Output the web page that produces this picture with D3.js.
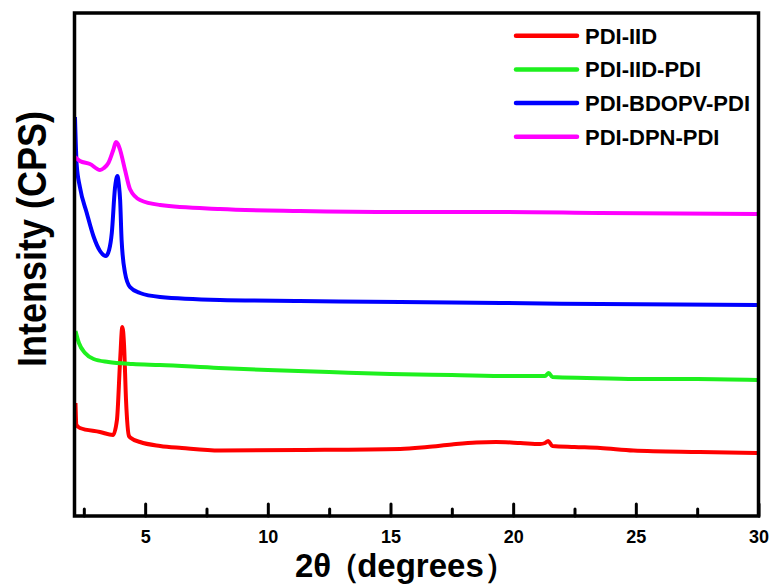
<!DOCTYPE html>
<html>
<meta charset="utf-8">

<!-- Load d3.js -->
<script src="https://d3js.org/d3.v7.js"></script>

<style>
    body { margin: 0; background: #fff; }
    text { font-family: "Liberation Sans", Arial, sans-serif; font-weight: bold; }
</style>

<body>
    <div id="my_xrd"></div>
    <script>

        // series names and colors
        var seriesNames = ["PDI-IID", "PDI-IID-PDI", "PDI-BDOPV-PDI", "PDI-DPN-PDI"];
        var seriesColors = ["#ff0000", "#1ef01e", "#0000ff", "#ff00ff"];

        // 2theta values and intensities (arbitrary counts)
        var iidX = [2.16, 2.2, 2.34, 3.16, 3.69, 3.85, 3.98, 4.07, 4.14, 4.22, 4.34, 4.42, 4.79, 5.61, 6.5, 8.05, 11.3, 15.4, 16.5, 17.5, 18.5, 19.3, 20.3, 21.1, 21.3, 21.43, 21.6, 22.5, 23.55, 24.9, 27.6, 29.95];
        var iidY = [1130, 910, 880, 840, 810, 960, 1560, 1890, 1710, 1160, 800, 780, 740, 700, 680, 655, 660, 670, 690, 715, 735, 740, 730, 720, 730, 750, 700, 690, 680, 655, 640, 630];

        var iidPdiX = [2.16, 2.3, 2.55, 2.9, 3.5, 4.5, 5.6, 8, 10, 12.5, 15, 17.5, 20, 21.3, 21.45, 21.6, 23, 25, 27.5, 29.95];
        var iidPdiY = [1850, 1730, 1630, 1570, 1540, 1520, 1510, 1480, 1460, 1440, 1420, 1410, 1400, 1400, 1430, 1390, 1380, 1370, 1370, 1360];

        var bdopvX = [2.14, 2.21, 2.34, 2.62, 2.89, 3.16, 3.4, 3.53, 3.64, 3.77, 3.87, 3.93, 3.98, 4.04, 4.18, 4.38, 4.79, 5.61, 8.05, 11.3, 15.4, 19.5, 23.55, 29.95];
        var bdopvY = [3990, 3510, 3290, 3030, 2800, 2650, 2600, 2660, 2830, 3280, 3400, 3310, 3160, 2760, 2430, 2290, 2230, 2190, 2160, 2150, 2140, 2130, 2120, 2110];

        var dpnX = [2.14, 2.34, 2.75, 3.16, 3.32, 3.5, 3.7, 3.81, 3.89, 3.98, 4.18, 4.38, 4.79, 5.61, 8.05, 11.3, 15.4, 19.5, 23.55, 29.95];
        var dpnY = [3590, 3550, 3520, 3460, 3480, 3530, 3660, 3740, 3720, 3660, 3460, 3270, 3160, 3110, 3070, 3050, 3040, 3040, 3030, 3020];

        // ticks
        var majorTicks = [5, 10, 15, 20, 25, 30];
        var minorTicks = [2.5, 7.5, 12.5, 17.5, 22.5, 27.5];

        var allSeries = [
            { name: seriesNames[0], color: seriesColors[0], x: iidX, y: iidY },
            { name: seriesNames[1], color: seriesColors[1], x: iidPdiX, y: iidPdiY },
            { name: seriesNames[2], color: seriesColors[2], x: bdopvX, y: bdopvY },
            { name: seriesNames[3], color: seriesColors[3], x: dpnX, y: dpnY }
        ];

        // set the dimensions and margins of the graph
        var W = 773, H = 586;
        var margin = { top: 13, right: 14.5, bottom: 70, left: 74.5 },
            width = W - margin.left - margin.right,
            height = H - margin.top - margin.bottom;

        var svg = d3.select("#my_xrd")
            .append("svg")
            .attr("width", W)
            .attr("height", H);

        var g = svg.append("g")
            .attr("transform", "translate(" + margin.left + "," + margin.top + ")");

        // scales
        var x = d3.scaleLinear().domain([2.12, 30]).range([0, width]);
        var y = d3.scaleLinear().domain([0, 5030]).range([height, 0]);

        g.append("clipPath").attr("id", "clip")
            .append("rect").attr("width", width).attr("height", height);

        // lines
        var line = d3.line()
            .curve(d3.curveMonotoneX)
            .x(function (d) { return x(d[0]) })
            .y(function (d) { return y(d[1]) });

        allSeries.forEach(function (s) {
            var pts = s.x.map(function (v, i) { return [v, s.y[i]] });
            g.append("path")
                .datum(pts)
                .attr("clip-path", "url(#clip)")
                .attr("fill", "none")
                .attr("stroke", s.color)
                .attr("stroke-width", 4)
                .attr("stroke-linejoin", "round")
                .attr("d", line);
        });

        // minor ticks (inside)
        var minorAxis = g.append("g")
            .attr("transform", "translate(0," + height + ")")
            .call(d3.axisBottom(x).tickValues(minorTicks).tickSize(-7).tickFormat(""));
        minorAxis.select(".domain").remove();

        // major ticks with labels
        var majorAxis = g.append("g")
            .attr("transform", "translate(0," + height + ")")
            .call(d3.axisBottom(x).tickValues(majorTicks).tickSize(-12).tickPadding(14));
        majorAxis.select(".domain").remove();
        majorAxis.selectAll("text")
            .style("font-size", "18px")
            .attr("fill", "#000");

        g.selectAll(".tick line")
            .attr("stroke", "#000")
            .attr("stroke-width", 3)
            .attr("stroke-linecap", "round");

        // frame
        g.append("rect")
            .attr("width", width)
            .attr("height", height)
            .attr("fill", "none")
            .attr("stroke", "#000")
            .attr("stroke-width", 3.5);

        // axis titles
        var xt = svg.append("text")
            .attr("x", 295)
            .attr("y", 577)
            .style("font-size", "33px");
        xt.append("tspan").text("2θ");
        xt.append("tspan").attr("dx", -4).text("（");
        xt.append("tspan").attr("dx", -3).text("degrees");
        xt.append("tspan").text("）");

        svg.append("text")
            .attr("transform", "translate(46,239) rotate(-90)")
            .attr("text-anchor", "middle")
            .attr("textLength", 256)
            .attr("lengthAdjust", "spacingAndGlyphs")
            .style("font-size", "40px")
            .text("Intensity (CPS)");

        // legend
        var legend = svg.append("g");
        seriesNames.forEach(function (name, i) {
            var ly = 35.7 + i * 33.7;
            legend.append("line")
                .attr("x1", 516).attr("x2", 577)
                .attr("y1", ly).attr("y2", ly)
                .attr("stroke", seriesColors[i])
                .attr("stroke-width", 4.5)
                .attr("stroke-linecap", "round");
            legend.append("text")
                .attr("x", 585)
                .attr("y", ly + 8)
                .style("font-size", "22px")
                .text(name);
        });

    </script>
</body>

</html>
